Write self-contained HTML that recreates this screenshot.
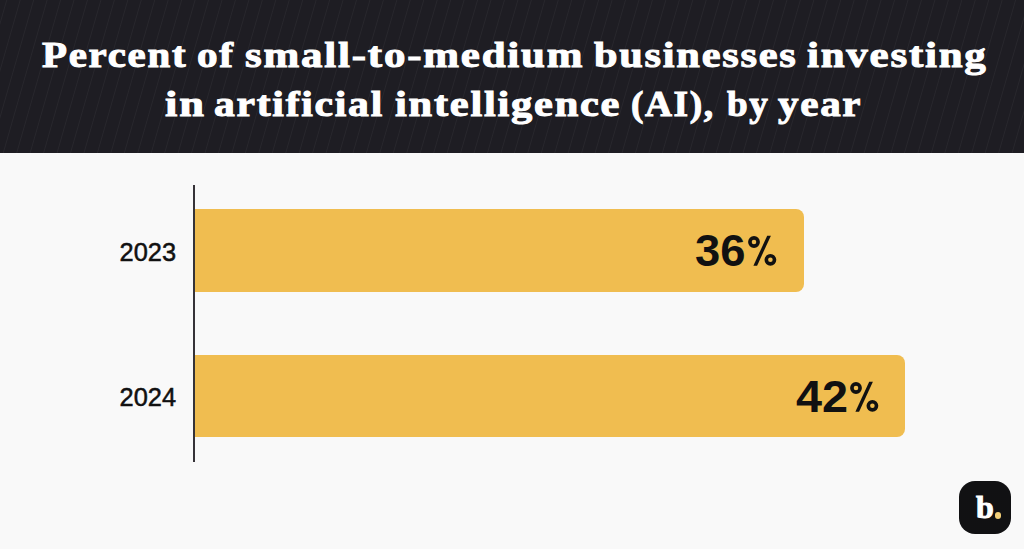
<!DOCTYPE html>
<html><head><meta charset="utf-8">
<style>
html,body{margin:0;padding:0;}
body{width:1024px;height:549px;overflow:hidden;background:#f9f9f9;position:relative;font-family:"Liberation Sans",sans-serif;}
#hdr{position:absolute;left:0;top:0;width:1024px;height:152.5px;background-color:#1e1d23;
  background-image:repeating-linear-gradient(106deg, rgba(255,255,255,0) 0px, rgba(255,255,255,0) 5.6px, rgba(255,255,255,0.045) 6.5px, rgba(255,255,255,0) 7.4px, rgba(255,255,255,0) 12.93px);}
.t{position:absolute;left:0;width:1024px;height:40px;white-space:nowrap;color:#fff;font-family:"Liberation Serif",serif;font-weight:bold;font-size:36px;line-height:40px;-webkit-text-stroke:1px #fff;letter-spacing:1.5px;}
.t .w{position:absolute;top:0;transform-origin:0 0;}
#axis{position:absolute;left:193px;top:184.5px;width:2px;height:277.5px;background:#363338;}
.bar{position:absolute;left:195px;height:82.5px;background:#f0bd50;border-radius:0 8px 8px 0;}
.yr{position:absolute;right:848px;font-size:25.4px;line-height:25px;color:#111;-webkit-text-stroke:0.5px #111;}
.val{position:absolute;font-weight:bold;font-size:44px;line-height:44px;color:#111;transform-origin:0 0;}
.pct{position:absolute;}
#logo{position:absolute;left:959px;top:481px;width:52px;height:52.5px;border-radius:16px;background:#0c0c0d radial-gradient(circle at 1px 1px, #26262b 0px, #26262b 0.3px, rgba(38,38,43,0) 0.8px) 0 0/2px 2px;}
#logo .b{position:absolute;left:17px;top:9.6px;-webkit-text-stroke:1px #fff;color:#fff;font-family:"Liberation Serif",serif;font-weight:bold;font-size:32px;line-height:32px;}
#logo .d{position:absolute;left:35.5px;top:31px;width:6.5px;height:6.5px;border-radius:50%;background:#f3cf78;}
</style></head><body>
<div id="hdr"></div>
<div class="t" id="l1" style="top:35px"><span class="w" style="left:42.0px;transform:scaleX(1.137)">Percent</span><span class="w" style="left:196.66px;transform:scaleX(1.1437)">of</span><span class="w" style="left:245.4px;transform:scaleX(1.1926)">small-to-medium</span><span class="w" style="left:594.4px;transform:scaleX(1.1754)">businesses</span><span class="w" style="left:806.8px;transform:scaleX(1.192)">investing</span></div>
<div class="t" id="l2" style="top:84px"><span class="w" style="left:165.3px;transform:scaleX(1.2344)">in</span><span class="w" style="left:214.24px;transform:scaleX(1.1566)">artificial</span><span class="w" style="left:395.4px;transform:scaleX(1.1784)">intelligence</span><span class="w" style="left:631.46px;transform:scaleX(1.039)">(AI),</span><span class="w" style="left:726.6px;transform:scaleX(1.0325)">by</span><span class="w" style="left:777.6px;transform:scaleX(1.1397)">year</span></div>
<div id="axis"></div>
<div class="bar" id="b1" style="top:209px;width:609px"></div>
<div class="bar" id="b2" style="top:354.5px;width:710px"></div>
<div class="yr" id="y1" style="top:239.5px">2023</div>
<div class="yr" id="y2" style="top:384.7px">2024</div>
<div class="val" id="v1" style="left:695.3px;top:228.8px;transform:scaleX(1.03)">36</div><svg class="pct" style="left:748px;top:234.6px" width="30" height="32" viewBox="0 0 30 32"><circle cx="6" cy="7" r="4.1" fill="none" stroke="#111" stroke-width="3.6"/><circle cx="22.4" cy="24.8" r="4.1" fill="none" stroke="#111" stroke-width="3.6"/><polygon points="5.4,30.7 9.1,30.7 22.9,0.7 19.2,0.7" fill="#111"/></svg>
<div class="val" id="v2" style="left:795.7px;top:375.2px;transform:scaleX(1.063)">42</div><svg class="pct" style="left:849.6px;top:381px" width="30" height="32" viewBox="0 0 30 32"><circle cx="6" cy="7" r="4.1" fill="none" stroke="#111" stroke-width="3.6"/><circle cx="22.4" cy="24.8" r="4.1" fill="none" stroke="#111" stroke-width="3.6"/><polygon points="5.4,30.7 9.1,30.7 22.9,0.7 19.2,0.7" fill="#111"/></svg>
<div id="logo"><div class="b">b</div><div class="d"></div></div>
</body></html>
